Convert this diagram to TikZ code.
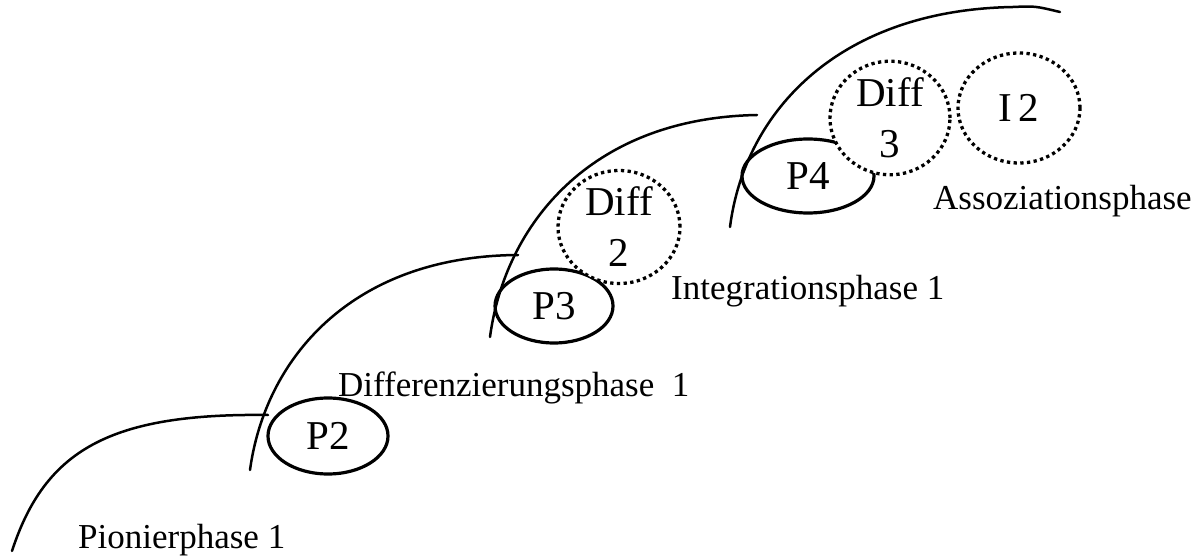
\documentclass[tikz,border=0pt]{standalone}
\usepackage{fontspec}
\setmainfont{Liberation Serif}
\usetikzlibrary{shapes.geometric}
\begin{document}
\begin{tikzpicture}[x=1pt,y=-1pt,
  arcline/.style={line width=2.5pt, line cap=round},
  phaseell/.style={ellipse, draw, line width=3.2pt, inner sep=0pt, font=\fontsize{41}{51}\selectfont},
  dotell/.style={ellipse, draw, fill=white, line width=3.3pt, dash pattern=on 3.3pt off 3.4pt, inner sep=0pt, align=center, font=\fontsize{41}{51}\selectfont},
  phaselabel/.style={anchor=base west, inner sep=0pt, font=\fontsize{35}{42}\selectfont}]
\useasboundingbox (0,0) rectangle (1203,556);
% arcs
\draw[arcline] (12,551) .. controls (45,450) and (110,413) .. (268,415);
\draw[arcline] (250,470) .. controls (265,360) and (350,256) .. (518,255);
\draw[arcline] (490,337) .. controls (505,225) and (590,118) .. (757,115);
\draw[arcline] (730,227) .. controls (745,110) and (840,10) .. (1013,7) .. controls (1035,6) .. (1060,12);
% P ellipses
\node[phaseell, minimum width=120, minimum height=76] (p2) at (328,436) {P2};
\node[phaseell, minimum width=118, minimum height=74] (p3) at (554,306) {P3};
\node[phaseell, minimum width=132, minimum height=74] (p4) at (808,176) {P4};
% dotted circles
\node[dotell, minimum width=122, minimum height=110] (d2) at (619,227) {Diff\\2};
\node[dotell, minimum width=120, minimum height=110] (d3) at (890,118) {Diff\\3};
\node[dotell, minimum width=122, minimum height=110] (i2) at (1019,108) {I\,2};
% phase labels
\node[phaselabel] (l1) at (78,548) {Pionierphase 1};
\node[phaselabel] (l2) at (338,396) {Differenzierungsphase\ \ 1};
\node[phaselabel] (l3) at (671,300) {Integrationsphase 1};
\node[phaselabel] (l4) at (933,210) {Assoziationsphase};
\end{tikzpicture}
\end{document}
